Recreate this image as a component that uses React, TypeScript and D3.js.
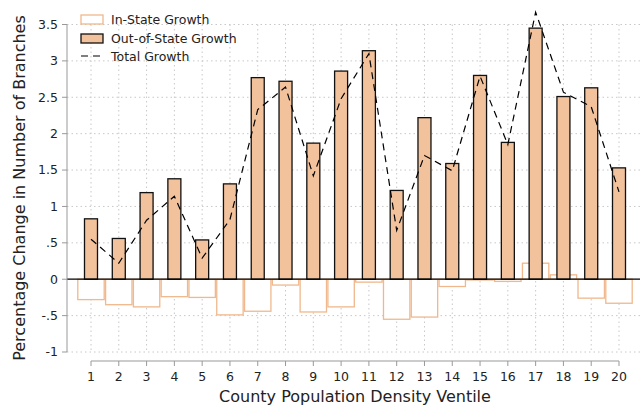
import React from "react";
import * as d3 from "d3";

const categories = d3.range(1, 21).map(String);
const inState = [-0.28,-0.35,-0.38,-0.24,-0.25,-0.49,-0.44,-0.08,-0.45,-0.38,-0.04,-0.55,-0.52,-0.1,-0.01,-0.03,0.22,0.06,-0.26,-0.33];
const outState = [0.83,0.56,1.19,1.38,0.54,1.31,2.77,2.72,1.87,2.86,3.14,1.22,2.22,1.59,2.8,1.88,3.45,2.51,2.63,1.53];
const total = [0.55,0.22,0.81,1.14,0.29,0.82,2.33,2.64,1.42,2.48,3.1,0.67,1.7,1.49,2.79,1.85,3.67,2.57,2.37,1.2];
const yTicks = [-1,-0.5,0,0.5,1,1.5,2,2.5,3,3.5];
const yTickLabels = ["-1","-.5","0",".5","1","1.5","2","2.5","3","3.5"];

export default function App() {
  const W = 644, H = 408;
  const x = d3.scalePoint().domain(categories).range([91, 619]);
  const step = x.step();
  const y = d3.scaleLinear().domain([-1, 3.5]).range([352, 24.5]);
  const font = "DejaVu Sans, sans-serif";
  const line = d3.line<number>().x((_, i) => x(categories[i])!).y(d => y(d));
  const fill = "#f2c29c", orange = "#f0b88c";
  return (
    <svg width={W} height={H} style={{ position: "absolute", left: 0, top: 0 }} fontFamily={font}>
      <rect width={W} height={H} fill="white" />
      {yTicks.filter(t => t !== 0).map(t => (
        <line key={t} x1={67} x2={640} y1={y(t)} y2={y(t)} stroke="#c8c8c8" strokeDasharray="1.5,3" />
      ))}
      {categories.map(c => (
        <line key={c} x1={x(c)} x2={x(c)} y1={y(3.5)} y2={y(-1)} stroke="#c8c8c8" strokeDasharray="1.5,3" />
      ))}
      {inState.map((v, i) => (
        <rect key={i} x={x(categories[i])! - step / 2 + 0.7} width={step - 1.4}
          y={Math.min(y(v), y(0))} height={Math.abs(y(v) - y(0))}
          fill="white" stroke={orange} strokeWidth={1.3} />
      ))}
      {outState.map((v, i) => (
        <rect key={i} x={x(categories[i])! - 6.5} width={13}
          y={y(v)} height={y(0) - y(v)} fill={fill} stroke="#111" strokeWidth={1.3} />
      ))}
      <path d={line(total)!} fill="none" stroke="#000" strokeWidth={1.2} strokeDasharray="7,5" />
      <line x1={67} x2={640} y1={y(0)} y2={y(0)} stroke="#000" strokeWidth={1.3} />
      <line x1={67} x2={67} y1={y(3.5)} y2={y(-1)} stroke="#999" />
      {yTicks.map((t, i) => (
        <g key={t}>
          <line x1={62} x2={67} y1={y(t)} y2={y(t)} stroke="#999" />
          <text x={58} y={y(t)} dy="0.35em" textAnchor="end" fontSize={12.5} fill="#222">{yTickLabels[i]}</text>
        </g>
      ))}
      <line x1={91} x2={619} y1={361} y2={361} stroke="#999" />
      {categories.map(c => (
        <g key={c}>
          <line x1={x(c)} x2={x(c)} y1={361} y2={366} stroke="#999" />
          <text x={x(c)} y={381} textAnchor="middle" fontSize={12.5} fill="#222">{c}</text>
        </g>
      ))}
      <text x={355} y={402} textAnchor="middle" fontSize={16} fill="#222">County Population Density Ventile</text>
      <text transform={`translate(25,188) rotate(-90)`} textAnchor="middle" fontSize={16} fill="#222">Percentage Change in Number of Branches</text>
      <g>
        <rect x={81} y={15} width={22} height={9} fill="white" stroke={orange} strokeWidth={1.3} />
        <text x={111} y={24} fontSize={12.5} fill="#222">In-State Growth</text>
        <rect x={81} y={34} width={22} height={9} fill={fill} stroke="#111" strokeWidth={1.3} />
        <text x={111} y={43} fontSize={12.5} fill="#222">Out-of-State Growth</text>
        <line x1={81} x2={103} y1={56} y2={56} stroke="#000" strokeWidth={1.2} strokeDasharray="7,5" />
        <text x={111} y={61} fontSize={12.5} fill="#222">Total Growth</text>
      </g>
    </svg>
  );
}
